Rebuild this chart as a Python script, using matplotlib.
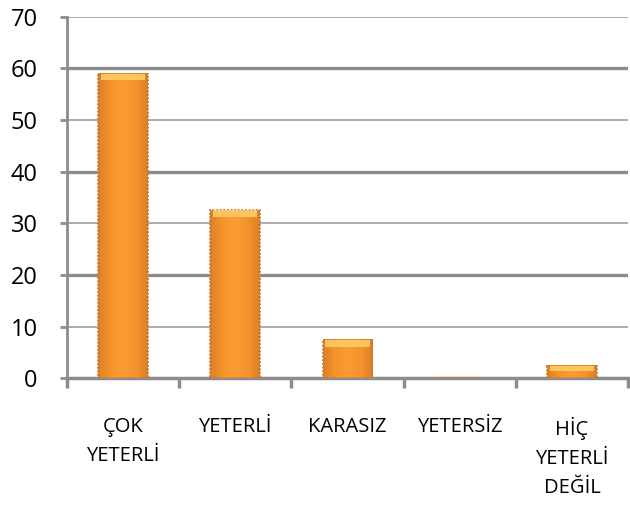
import matplotlib.pyplot as plt
import numpy as np
from matplotlib.colors import LinearSegmentedColormap

categories = ["ÇOK\nYETERLİ", "YETERLİ", "KARASIZ", "YETERSİZ", "HİÇ\nYETERLİ\nDEĞİL"]
values = [59.0, 32.5, 7.4, 0.0, 2.4]
yticks = [0, 10, 20, 30, 40, 50, 60, 70]

plt.rcParams["font.family"] = ["Open Sans", "DejaVu Sans"]

fig = plt.figure(figsize=(6.30, 5.11), dpi=100)
ax = fig.add_axes([0.106, 0.26, 0.891, 0.707])

x = np.arange(len(categories))

# gridlines: thicker at 20/40/60
for y in yticks[1:]:
    thick = y in (20, 40, 60)
    ax.axhline(y, color="#8c8c8c" if thick else "#a0a0a0", lw=2.4 if thick else 1.2, zorder=1)

width = 0.44
cmap = LinearSegmentedColormap.from_list("barshade", ["#D98128", "#F7932C", "#FA9C34", "#F7932C", "#D98128"])
grad = np.linspace(0, 1, 64).reshape(1, -1)

bars = ax.bar(x, values, width=width, color="none", edgecolor="#C07A3A",
              linewidth=1.3, linestyle=(0, (1, 1)), zorder=4)
for b, v in zip(bars, values):
    if v <= 0:
        continue
    x0 = b.get_x()
    ax.imshow(grad, cmap=cmap, aspect="auto", extent=(x0, x0 + width, 0, v),
              zorder=3, interpolation="bicubic")
    # lighter cap on top of each bar
    h = min(1.3, v * 0.45)
    ax.bar(x0 + width / 2, h, bottom=v - h, width=width * 0.9,
           color="#FCC45C", linewidth=0, zorder=4)
ax.set_xlim(-0.5, len(categories) - 0.5)
ax.set_ylim(0, 70)

for s in ("top", "right"):
    ax.spines[s].set_visible(False)
ax.spines["left"].set_color("#8c8c8c")
ax.spines["left"].set_linewidth(2)
ax.spines["bottom"].set_color("#8c8c8c")
ax.spines["bottom"].set_linewidth(2.5)

ax.set_yticks(yticks)
ax.set_yticklabels([str(v) for v in yticks], fontsize=17)
ax.tick_params(axis="y", length=5, width=2, color="#8c8c8c", pad=16)

ax.set_xticks(np.arange(len(categories) + 1) - 0.5, minor=False)
ax.set_xticklabels([])
ax.tick_params(axis="x", length=7, width=2.5, color="#8c8c8c")
ax.set_xticks(x, minor=True)
ax.set_xticklabels(categories, minor=True, fontsize=14.5, linespacing=1.6)
ax.tick_params(axis="x", which="minor", length=0, pad=28)

fig.savefig("out.png", dpi=100, facecolor="white")
